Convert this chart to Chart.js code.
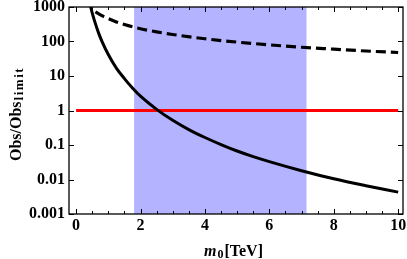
<!DOCTYPE html>
<html>
<head>
<meta charset="utf-8">
<script src="https://cdn.jsdelivr.net/npm/chart.js@4/dist/chart.umd.min.js"></script>
<style>
  html, body { margin: 0; padding: 0; background: #fff; }
  #wrap { width: 407px; height: 259px; }
</style>
</head>
<body>
<div id="wrap"><canvas id="obsChart" width="407" height="259"></canvas></div>
<script>
// ---- data ----
const xTicks = [0, 2, 4, 6, 8, 10];
const yTicks = [0.001, 0.01, 0.1, 1, 10, 100, 1000];
const yTickLabels = ["0.001", "0.01", "0.1", "1", "10", "100", "1000"];

const mSolid   = [0.45, 0.5, 0.6, 0.7, 0.8, 1.0, 1.25, 1.5, 1.75, 2.0, 2.5, 3.0, 3.5, 4.0, 4.5, 5.0, 5.5, 6.0, 7.0, 8.0, 9.0, 10.0];
const obsSolid = [1030, 680, 330, 175, 103, 42, 17, 8.4, 4.5, 2.6, 1.08, 0.52, 0.28, 0.165, 0.103, 0.067, 0.046, 0.033, 0.018, 0.0105, 0.0066, 0.0043];

const mDashed   = [0.6, 0.8, 1.0, 1.25, 1.5, 2.0, 2.5, 3.0, 4.0, 5.0, 6.0, 7.0, 8.0, 9.0, 10.0];
const obsDashed = [720, 560, 460, 370, 310, 235, 190, 160, 120, 96, 80, 68, 60, 53, 48];

const limitRange = [0, 10];
const limitValue = 1;

const bandRange = [1.8, 7.16];

const FONT = "'Liberation Serif', 'Times New Roman', serif";

function pts(xs, ys) {
    return xs.map(function (x, i) { return { x: x, y: ys[i] }; });
}

// frame, inward ticks and axis titles (drawn on top of the band)
const framePlugin = {
    id: "frame",
    afterDatasetsDraw: function (chart) {
        const ctx = chart.ctx;
        const a = chart.chartArea;
        const xs = chart.scales.x, ys = chart.scales.y;
        ctx.save();
        ctx.strokeStyle = "#000";
        ctx.lineWidth = 1.3;
        ctx.strokeRect(a.left, a.top, a.right - a.left, a.bottom - a.top);
        ctx.lineWidth = 1;
        ctx.beginPath();
        for (let v = 0; v <= 10.001; v += 0.5) {
            const px = Math.round(xs.getPixelForValue(v)) + 0.5;
            const len = (Math.abs(v % 2) < 0.01) ? 5 : 3;
            ctx.moveTo(px, a.bottom); ctx.lineTo(px, a.bottom - len);
            ctx.moveTo(px, a.top); ctx.lineTo(px, a.top + len);
        }
        yTicks.forEach(function (v) {
            const py = Math.round(ys.getPixelForValue(v)) + 0.5;
            ctx.moveTo(a.left, py); ctx.lineTo(a.left + 5, py);
            ctx.moveTo(a.right, py); ctx.lineTo(a.right - 5, py);
        });
        ctx.stroke();
        ctx.restore();
    },
    afterDraw: function (chart) {
        const ctx = chart.ctx;
        ctx.save();
        ctx.fillStyle = "#000";
        ctx.textBaseline = "alphabetic";

        // y title: Obs/Obs_limit, reading bottom to top
        const main = "Obs/Obs", sub = "limit";
        ctx.font = "bold 16px " + FONT;
        const wMain = ctx.measureText(main).width;
        ctx.translate(21, 161);
        ctx.rotate(-Math.PI / 2);
        ctx.fillText(main, 0, 0);
        ctx.font = "bold 13px " + FONT;
        ctx.letterSpacing = "1.5px";
        ctx.fillText(sub, wMain + 1, 2);
        ctx.letterSpacing = "0px";
        ctx.setTransform(1, 0, 0, 1, 0, 0);

        // x title: m_0[TeV]
        let x = 204;
        const base = 256;
        ctx.font = "italic bold 16px " + FONT;
        ctx.fillText("m", x, base); x += ctx.measureText("m").width + 1;
        ctx.font = "bold 12px " + FONT;
        ctx.fillText("0", x, base + 2); x += ctx.measureText("0").width + 1;
        ctx.font = "bold 16px " + FONT;
        ctx.fillText("[TeV]", x, base);
        ctx.restore();
    }
};

new Chart(document.getElementById("obsChart"), {
    type: "line",
    data: {
        datasets: [
            {
                // shaded band
                data: [{ x: bandRange[0], y: 1000 }, { x: bandRange[1], y: 1000 }],
                borderWidth: 0,
                pointRadius: 0,
                fill: "start",
                backgroundColor: "#b3b3ff",
                order: 5
            },
            {
                data: pts(limitRange, [limitValue, limitValue]),
                borderColor: "#ff0000",
                borderWidth: 3,
                pointRadius: 0,
                order: 2
            },
            {
                data: pts(mDashed, obsDashed),
                borderColor: "#000",
                borderWidth: 3.2,
                borderDash: [10, 5],
                pointRadius: 0,
                cubicInterpolationMode: "monotone",
                order: 1
            },
            {
                data: pts(mSolid, obsSolid),
                borderColor: "#000",
                borderWidth: 3,
                pointRadius: 0,
                cubicInterpolationMode: "monotone",
                order: 0
            }
        ]
    },
    options: {
        responsive: false,
        animation: false,
        devicePixelRatio: 1,
        layout: { padding: { left: 0, top: 7, right: 4, bottom: 0 } },
        plugins: {
            legend: { display: false },
            tooltip: { enabled: false }
        },
        scales: {
            x: {
                type: "linear",
                min: -0.22,
                max: 10.15,
                grid: { display: false, drawTicks: false, tickLength: 0 },
                border: { display: false },
                afterBuildTicks: function (s) {
                    s.ticks = xTicks.map(function (v) { return { value: v }; });
                },
                afterFit: function (s) {
                    s.height = 45;
                    s.paddingLeft = 0;
                    s.paddingRight = 0;
                },
                ticks: {
                    color: "#000",
                    padding: 2,
                    maxRotation: 0,
                    font: { family: FONT, size: 16, weight: "bold" }
                }
            },
            y: {
                type: "logarithmic",
                min: 0.001,
                max: 1000,
                grid: { display: false, drawTicks: false, tickLength: 0 },
                border: { display: false },
                afterBuildTicks: function (s) {
                    s.ticks = yTicks.map(function (v) { return { value: v }; });
                },
                afterFit: function (s) {
                    s.width = 69;
                    s.paddingTop = 0;
                    s.paddingBottom = 0;
                },
                ticks: {
                    color: "#000",
                    padding: 4,
                    font: { family: FONT, size: 16, weight: "bold" },
                    callback: function (v) {
                        const i = yTicks.indexOf(v);
                        return i >= 0 ? yTickLabels[i] : "";
                    }
                }
            }
        }
    },
    plugins: [framePlugin]
});
</script>
</body>
</html>
